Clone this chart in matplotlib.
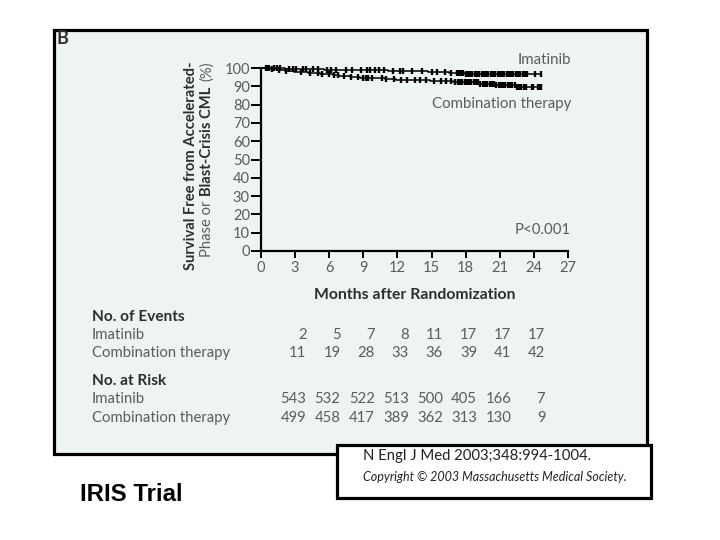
import numpy as np
import matplotlib
matplotlib.use("Agg")
import matplotlib.pyplot as plt
import matplotlib.transforms as mtransforms
from matplotlib.patches import Rectangle

# ---- data ----
xticks = [0, 3, 6, 9, 12, 15, 18, 21, 24, 27]
yticks = [0, 10, 20, 30, 40, 50, 60, 70, 80, 90, 100]

table_months = [3, 6, 9, 12, 15, 18, 21, 24]
events_imat = [2, 5, 7, 8, 11, 17, 17, 17]
events_comb = [11, 19, 28, 33, 36, 39, 41, 42]
risk_imat = [543, 532, 522, 513, 500, 405, 166, 7]
risk_comb = [499, 458, 417, 389, 362, 313, 130, 9]

# Kaplan-Meier steps (month, % free of AP/BC)
imat_t = [0, 0.9, 2.1, 3.4, 4.3, 5.5, 7.1, 8.4, 11.2, 12.9, 13.8, 14.7,
          15.3, 15.9, 16.5, 17.0, 17.5, 17.9]
imat_s = [100, 99.8, 99.6, 99.4, 99.3, 99.1, 98.9, 98.7, 98.6, 98.4, 98.2,
          98.0, 97.8, 97.6, 97.4, 97.2, 97.0, 96.8]
imat_end = 24.6

comb_t = [0, 0.3, 0.6, 0.9, 1.2, 1.5, 1.8, 2.1, 2.4, 2.7, 2.9,
          3.3, 3.7, 4.1, 4.5, 4.9, 5.2, 5.6, 5.9,
          6.3, 6.6, 6.9, 7.2, 7.5, 7.8, 8.1, 8.4, 8.7,
          9.6, 10.3, 10.9, 11.5, 11.9,
          13.0, 14.1, 14.9,
          16.0, 16.9, 17.8,
          19.3, 20.6,
          22.4]
comb_s = [100, 99.8, 99.6, 99.4, 99.2, 99.0, 98.8, 98.6, 98.4, 98.2, 98.0,
          97.85, 97.7, 97.5, 97.3, 97.1, 96.9, 96.7, 96.5,
          96.3, 96.1, 95.9, 95.7, 95.5, 95.3, 95.1, 94.9, 94.7,
          94.5, 94.3, 94.1, 93.9, 93.7,
          93.5, 93.3, 93.1,
          92.8, 92.5, 92.1,
          91.3, 90.5,
          89.7]
comb_end = 24.6

imat_cens = [0.4, 0.7, 1.1, 1.4, 1.7, 2.5, 2.8, 3.1, 3.7, 4.0, 4.6, 5.0, 5.8,
             6.2, 6.6, 7.5, 8.0, 8.8, 9.3, 9.6, 10.0, 10.4, 10.8, 11.6, 12.2,
             12.5, 13.3, 14.2, 15.0, 15.5, 16.2, 16.7, 17.2, 17.4, 17.6, 17.8,
             18.0, 18.2, 18.4, 18.6, 18.8, 19.0, 19.2, 19.4, 19.6, 19.8, 20.0,
             20.2, 20.4, 20.6, 20.8, 21.0, 21.2, 21.4, 21.6, 21.8, 22.0, 22.2,
             22.4, 22.6, 22.8, 23.0, 23.2, 23.4, 24.1, 24.6]
comb_cens = [0.5, 1.0, 1.6, 2.2, 3.5, 4.3, 5.0, 5.4, 6.0, 6.4, 6.8, 7.3,
             7.9, 8.5, 9.0, 9.2, 9.4, 9.8, 10.6, 11.0, 11.7, 12.3, 12.8,
             13.5, 14.0, 14.5, 15.2, 15.8, 16.3, 16.7, 17.1, 17.3, 17.5, 17.7,
             17.9, 18.1, 18.3, 18.5, 18.7, 18.9, 19.1, 19.3, 19.5, 19.7, 19.9,
             20.1, 20.3, 20.5, 20.7, 20.9, 21.1, 21.3, 21.5, 21.7, 21.9, 22.1,
             22.3, 22.5, 22.7, 22.9, 23.1, 23.3, 23.8, 23.9, 24.4, 24.5, 24.6]

W, H = 720, 540


def fx(px):
    return px / W


def fy(py):
    return 1 - py / H


plt.rcParams['font.family'] = ['Lato', 'DejaVu Sans']
grey = '#5c5c5c'
dark = '#2e2e2e'

fig = plt.figure(figsize=(7.2, 5.4), dpi=100)
fig.patch.set_facecolor('white')

# green panel (behind the axes)
fig.patches.append(Rectangle((fx(53.5), fy(453.5)), fx(646.5) - fx(53.5),
                             fy(29.5) - fy(453.5), transform=fig.transFigure,
                             facecolor='#eef4ef', edgecolor='black',
                             linewidth=2.3, zorder=-2))
# citation box
fig.patches.append(Rectangle((fx(336.5), fy(497.5)), fx(650.5) - fx(336.5),
                             fy(444.5) - fy(497.5), transform=fig.transFigure,
                             facecolor='white', edgecolor='black',
                             linewidth=2.3, zorder=1))

ax = fig.add_axes([fx(261), fy(251), fx(568) - fx(261), fy(68) - fy(251)])
ax.set_facecolor('none')
ax.set_xlim(0, 27)
ax.set_ylim(0, 100)
for s in ['top', 'right']:
    ax.spines[s].set_visible(False)
for s in ['left', 'bottom']:
    ax.spines[s].set_linewidth(1.6)
ax.set_xticks(xticks)
ax.set_yticks(yticks)
ax.tick_params(axis='y', direction='out', length=7, width=1.4, pad=1,
               labelsize=10.5, labelcolor=grey)
ax.tick_params(axis='x', direction='out', length=5, width=1.4, pad=2,
               labelsize=10.5, labelcolor=grey)

for t, s, end, cens in [(imat_t, imat_s, imat_end, imat_cens),
                        (comb_t, comb_s, comb_end, comb_cens)]:
    ax.step(t + [end], s + [s[-1]], where='post', color='black', lw=1.1,
            clip_on=False)
    idx = np.searchsorted(t, cens, side='right') - 1
    ax.plot(cens, np.array(s)[idx], ls='none', marker='|', ms=4.6, mew=1.7,
            color='black', clip_on=False)

# curve labels
fig.text(fx(571), fy(60), 'Imatinib', ha='right', va='center', size=10.8,
         color=grey)
fig.text(fx(571), fy(104), 'Combination therapy', ha='right', va='center',
         size=10.8, color=grey)
fig.text(fx(571), fy(230), 'P<0.001', ha='right', va='center', size=10.8,
         color=grey)
fig.text(fx(415), fy(295), 'Months after Randomization', ha='center',
         va='center', size=11.3, weight='bold', color=dark)
fig.text(fx(57), fy(39), 'B', ha='left', va='center', size=13,
         weight='bold', color=dark)

# y label, two lines with mixed weight
fig.canvas.draw()
renderer = fig.canvas.get_renderer()


def rotated_line(x_base, y_start, pieces):
    y = y_start
    for txt, wt, gap in pieces:
        t = fig.text(fx(x_base), fy(y), txt, rotation=90,
                     rotation_mode='anchor', ha='left', va='baseline',
                     size=10.6, weight=wt,
                     color=dark if wt == 'bold' else grey)
        h = t.get_window_extent(renderer).height
        y -= h + gap


rotated_line(195, 270, [('Survival Free from Accelerated-', 'bold', 0)])
rotated_line(211, 257, [('Phase or', 'normal', 5),
                        ('Blast-Crisis CML', 'bold', 5),
                        ('(%)', 'normal', 0)])

# tables
row_trans = mtransforms.blended_transform_factory(ax.transData,
                                                  fig.transFigure)
fig.text(fx(92), fy(317), 'No. of Events', ha='left', va='center',
         size=11.1, weight='bold', color=dark)
fig.text(fx(92), fy(381), 'No. at Risk', ha='left', va='center',
         size=11.1, weight='bold', color=dark)
rows = [(335, 'Imatinib', events_imat), (353, 'Combination therapy', events_comb),
        (399, 'Imatinib', risk_imat), (418, 'Combination therapy', risk_comb)]
for py, name, vals in rows:
    fig.text(fx(92), fy(py), name, ha='left', va='center', size=10.7,
             color=grey)
    for m, v in zip(table_months, vals):
        ax.text(m + 1.0, fy(py), str(v), transform=row_trans, ha='right',
                va='center', size=10.7, color=grey, clip_on=False)

# slide text
fig.text(fx(363), fy(456), 'N Engl J Med 2003;348:994-1004.', ha='left',
         va='center', size=10.7, color='#222222', zorder=3)
fig.text(fx(363), fy(477), 'Copyright \u00a9 2003 Massachusetts Medical Society.',
         ha='left', va='center', size=9.0, style='italic', color='#222222',
         zorder=3)
fig.text(fx(80), fy(501), 'IRIS Trial', ha='left', va='baseline',
         size=17.3, weight='bold', family=['Liberation Sans', 'DejaVu Sans'],
         color='black')

fig.savefig('out.png', dpi=100)
